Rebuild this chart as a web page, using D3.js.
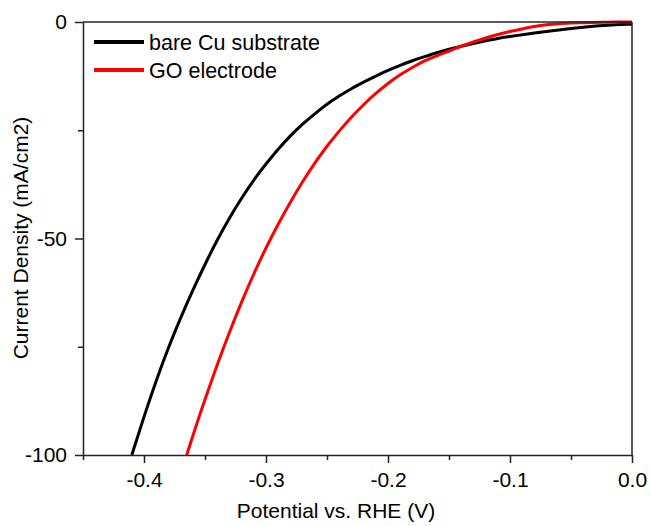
<!DOCTYPE html>
<html>
<head>
<meta charset="utf-8">
<script src="https://cdn.jsdelivr.net/npm/d3@7"></script>
<style>
  body { margin: 0; background: #fff; }
  text { font-family: Arial, "Liberation Sans", sans-serif; fill: #000; }
</style>
</head>
<body>
<svg id="chart" width="651" height="526"></svg>
<script>
// bare Cu substrate (potential V vs RHE, current density mA/cm2)
const bareV = [-0.410, -0.400, -0.390, -0.380, -0.370, -0.360, -0.350, -0.340, -0.330, -0.320,
  -0.310, -0.300, -0.290, -0.280, -0.270, -0.260, -0.250, -0.240, -0.230, -0.220,
  -0.210, -0.200, -0.190, -0.180, -0.170, -0.160, -0.150, -0.140, -0.130, -0.120,
  -0.110, -0.100, -0.090, -0.080, -0.070, -0.060, -0.050, -0.040, -0.030, -0.020,
  -0.010, 0.000]
const bareJ = [-100, -91.2, -82.9, -75.3, -68.4, -62.0, -56.0, -50.4, -45.3, -40.7,
  -36.5, -32.8, -29.4, -26.3, -23.6, -21.2, -19.0, -17.1, -15.4, -13.9,
  -12.5, -11.2, -10.0, -8.95, -8.0, -7.1, -6.3, -5.6, -4.95, -4.35,
  -3.8, -3.35, -2.95, -2.55, -2.2, -1.85, -1.5, -1.2, -0.95, -0.75,
  -0.6, -0.5]

// GO electrode
const goV = [-0.365, -0.360, -0.350, -0.340, -0.330, -0.320, -0.310, -0.300, -0.290, -0.280,
  -0.270, -0.260, -0.250, -0.240, -0.230, -0.220, -0.210, -0.200, -0.190, -0.180,
  -0.170, -0.160, -0.150, -0.140, -0.130, -0.120, -0.110, -0.100, -0.090, -0.080,
  -0.070, -0.060, -0.050, -0.040, -0.020, 0.000]
const goJ = [-100, -95.6, -87.2, -79.2, -71.7, -64.7, -58.2, -52.2, -46.7, -41.6,
  -36.9, -32.6, -28.7, -25.2, -22.0, -19.1, -16.5, -14.2, -12.2, -10.5,
  -9.0, -7.8, -6.7, -5.6, -4.6, -3.7, -2.9, -2.2, -1.6, -1.05,
  -0.65, -0.4, -0.25, -0.15, -0.05, 0]

const seriesNames = ['bare Cu substrate', 'GO electrode']
const seriesColors = ['#000000', '#ff0000']

const xTicks = [-0.4, -0.3, -0.2, -0.1, 0.0]
const xMinorTicks = [-0.45, -0.35, -0.25, -0.15, -0.05]
const yTicks = [0, -50, -100]
const yMinorTicks = [-25, -75]

const width = 651, height = 526
const margin = {top: 22, right: 19, bottom: 71, left: 83}
const innerW = width - margin.left - margin.right
const innerH = height - margin.top - margin.bottom

const svg = d3.select('#chart')
const g = svg.append('g')
  .attr('transform', `translate(${margin.left},${margin.top})`)

const x = d3.scaleLinear().domain([-0.45, 0]).range([0, innerW])
const y = d3.scaleLinear().domain([-100, 0]).range([innerH, 0])

g.append('clipPath').attr('id', 'clip')
  .append('rect')
  .attr('x', 0).attr('y', -3)
  .attr('width', innerW + 2).attr('height', innerH + 3)

// curves
const line = d3.line()
  .x(d => x(d[0]))
  .y(d => y(d[1]))
  .curve(d3.curveMonotoneX)

const series = [
  d3.zip(bareV, bareJ),
  d3.zip(goV, goJ)
]

g.append('g').attr('clip-path', 'url(#clip)')
  .selectAll('path.curve')
  .data(series)
  .enter().append('path')
  .attr('class', 'curve')
  .attr('d', line)
  .attr('fill', 'none')
  .attr('stroke', (d, i) => seriesColors[i])
  .attr('stroke-width', 3)

// frame (top and right)
g.append('line')
  .attr('x1', 0).attr('x2', innerW)
  .attr('y1', 0).attr('y2', 0)
  .attr('stroke', '#222').attr('stroke-width', 1.5)
g.append('line')
  .attr('x1', innerW).attr('x2', innerW)
  .attr('y1', 0).attr('y2', innerH)
  .attr('stroke', '#222').attr('stroke-width', 1.5)

// x axis
const xAxis = g.append('g')
  .attr('transform', `translate(0,${innerH})`)
  .call(d3.axisBottom(x).tickValues(xTicks).tickFormat(d => d.toFixed(1))
    .tickSize(8).tickPadding(9).tickSizeOuter(0))
xAxis.append('g')
  .call(d3.axisBottom(x).tickValues(xMinorTicks).tickFormat('').tickSize(5).tickSizeOuter(0))
  .select('.domain').remove()

// y axis
const yAxis = g.append('g')
  .call(d3.axisLeft(y).tickValues(yTicks).tickFormat(d => String(d))
    .tickSize(8).tickPadding(8).tickSizeOuter(0))
yAxis.append('g')
  .call(d3.axisLeft(y).tickValues(yMinorTicks).tickFormat('').tickSize(5).tickSizeOuter(0))
  .select('.domain').remove()

svg.selectAll('.domain, .tick line')
  .attr('stroke', '#222')
  .attr('stroke-width', 1.5)
svg.selectAll('.tick text')
  .style('font-family', 'Arial, "Liberation Sans", sans-serif')
  .style('font-size', '21px')
  .attr('fill', '#000')

// axis titles
svg.append('text')
  .attr('x', 336)
  .attr('y', 518)
  .attr('text-anchor', 'middle')
  .style('font-size', '21px')
  .text('Potential vs. RHE (V)')

svg.append('text')
  .attr('transform', 'translate(28,238) rotate(-90)')
  .attr('text-anchor', 'middle')
  .style('font-size', '21px')
  .text('Current Density (mA/cm2)')

// legend
const legend = svg.append('g')
  .selectAll('g.legendItem')
  .data(seriesNames)
  .enter().append('g')
  .attr('class', 'legendItem')
  .attr('transform', (d, i) => `translate(94,${42 + i * 28})`)

legend.append('line')
  .attr('x1', 0).attr('x2', 50)
  .attr('y1', 0).attr('y2', 0)
  .attr('stroke', (d, i) => seriesColors[i])
  .attr('stroke-width', 4)

legend.append('text')
  .attr('x', 55)
  .attr('y', 7.5)
  .style('font-size', '21.5px')
  .text(d => d)
</script>
</body>
</html>
